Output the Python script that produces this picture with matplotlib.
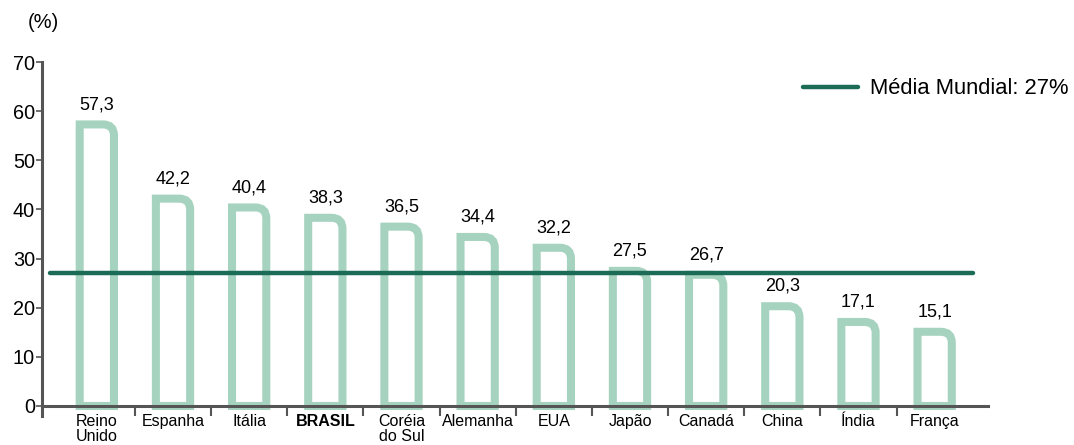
import matplotlib.pyplot as plt
from matplotlib.path import Path
from matplotlib.patches import PathPatch

plt.rcParams['font.family'] = ['Liberation Sans', 'DejaVu Sans']

# data
paises = ['Reino\nUnido', 'Espanha', 'Itália', 'BRASIL', 'Coréia\ndo Sul', 'Alemanha',
          'EUA', 'Japão', 'Canadá', 'China', 'Índia', 'França']
valores = [57.3, 42.2, 40.4, 38.3, 36.5, 34.4, 32.2, 27.5, 26.7, 20.3, 17.1, 15.1]
media_mundial = 27
yticks = [0, 10, 20, 30, 40, 50, 60, 70]

bar_color = '#a6d3bf'
line_color = '#1c6b57'
axis_color = '#555555'

fig = plt.figure(figsize=(10.74, 4.45), dpi=100)
ax = fig.add_axes([0.0391, 0.0656, 0.8808, 0.795])
ax.set_xlim(-0.72, 11.70)
ax.set_ylim(-2, 70)

# pixel -> data scale for the rounded corner
px_x = 946 / (11.70 + 0.72)
px_y = 353.8 / 72
r = 11
rx, ry = r / px_x, r / px_y
w = 0.45

for i, v in enumerate(valores):
    x0, x1 = i - w / 2, i + w / 2
    verts = [(x0, 0), (x0, v), (x1 - rx, v), (x1, v), (x1, v - ry), (x1, 0), (x0, 0)]
    codes = [Path.MOVETO, Path.LINETO, Path.LINETO, Path.CURVE3, Path.CURVE3,
             Path.LINETO, Path.CLOSEPOLY]
    ax.add_patch(PathPatch(Path(verts, codes), facecolor='white', edgecolor=bar_color,
                           lw=5.8, joinstyle='miter', zorder=2))
    ax.annotate(f'{v:.1f}'.replace('.', ','), (i, v), xytext=(0, 11),
                textcoords='offset points', ha='center', va='baseline', fontsize=13)

ax.plot([-0.62, 11.5], [media_mundial, media_mundial], color=line_color, lw=3.2,
        solid_capstyle='round', zorder=3, label=f'Média Mundial: {media_mundial}%')

leg = ax.legend(loc='center left', bbox_to_anchor=(803 / 1074, 1 - 89 / 445),
                bbox_transform=fig.transFigure, frameon=False, fontsize=15.8,
                handlelength=2.5, handletextpad=0.55, borderpad=0, borderaxespad=0)

# axes styling
for s in ['top', 'right']:
    ax.spines[s].set_visible(False)
ax.spines['bottom'].set_position(('data', 0))
ax.spines['bottom'].set_color(axis_color)
ax.spines['bottom'].set_linewidth(2.2)
ax.spines['bottom'].set_zorder(4)
ax.spines['left'].set_color(axis_color)
ax.spines['left'].set_linewidth(2.2)

ax.set_yticks(yticks)
ax.tick_params(axis='y', direction='out', length=4, width=1.2, color=axis_color,
               labelsize=14.3, pad=1)

ax.set_xticks(range(len(paises)))
ax.set_xticklabels(paises, fontsize=11.5, linespacing=0.95)
ax.tick_params(axis='x', which='major', length=0, pad=6)
ax.set_xticks([i + 0.5 for i in range(len(paises) - 1)], minor=True)
ax.tick_params(axis='x', which='minor', direction='out', length=7, width=1.5,
               color=axis_color)
for lab in ax.get_xticklabels():
    if lab.get_text() == 'BRASIL':
        lab.set_fontweight('bold')

fig.text(28 / 1074, 1 - 22 / 445, '(%)', fontsize=14.5, va='center', ha='left')

fig.savefig('out.png', dpi=100)
